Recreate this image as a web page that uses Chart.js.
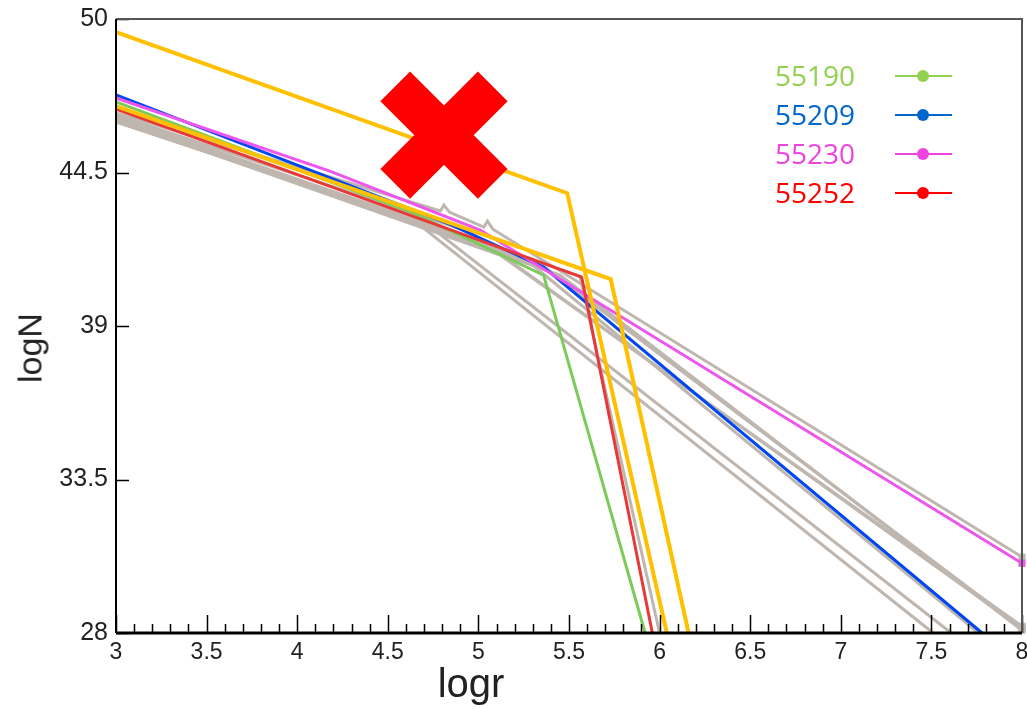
<!DOCTYPE html>
<html>
<head>
<meta charset="utf-8">
<script src="https://cdn.jsdelivr.net/npm/chart.js@4/dist/chart.umd.min.js"></script>
<style>
  body { margin: 0; background: #fff; }
  #wrap { position: relative; width: 1027px; height: 709px; }
  #legend { position: absolute; left: 775px; top: 56px; font-family: "Open Sans", sans-serif; font-size: 28px; }
  .row { position: relative; height: 39px; line-height: 39px; }
  .row .sw { position: absolute; left: 120px; top: 19px; width: 57px; height: 0; border-top: 2px solid; }
  .row .dot { position: absolute; left: 22px; top: -7px; width: 12px; height: 12px; border-radius: 50%; }
  .axtitle { position: absolute; font-family: "Liberation Sans", Arial, sans-serif; color: #222; white-space: nowrap; }
  #xt { left: 471px; top: 683px; font-size: 40px; transform: translate(-50%, -50%); }
  #yt { left: 30px; top: 348px; font-size: 34px; transform: translate(-50%, -50%) rotate(-90deg); }
</style>
</head>
<body>
<div id="wrap">
  <canvas id="c" width="1027" height="709"></canvas>
  <div id="legend"></div>
  <div class="axtitle" id="xt">logr</div>
  <div class="axtitle" id="yt">logN</div>
</div>
<script>
/* ── logN vs logr, per-run fits ── */

const xTicksMin = 3, xTicksMax = 8, xStep = 0.5;
const yTicks = [28, 33.5, 39, 44.5, 50];

// highlighted runs (legend)
const runLabels = ['55190', '55209', '55230', '55252'];
const runText   = ['#92D050', '#0066CC', '#EE44DD', '#FF0000'];
const runLine   = ['#7CCB5A', '#0047F0', '#EE55EE', '#E83838'];

const run55190x = [3, 4.64, 5.36, 5.92];
const run55190y = [47.03, 43.05, 40.82, 28];
const run55209x = [3, 4.84, 5.36, 7.78];
const run55209y = [47.28, 42.65, 41.11, 28];
const run55230x = [3, 4.18, 5.01, 8];
const run55230y = [47.17, 44.55, 42.44, 30.5];
const run55252x = [3, 5.57, 5.96];
const run55252y = [46.77, 40.75, 28];

// the two yellow reference curves
const yellowAx = [3, 5.49, 6.04];
const yellowAy = [49.53, 43.76, 28];
const yellowBx = [3, 5.73, 6.16];
const yellowBy = [46.88, 40.68, 28];

// other runs (grey)
const greyX = [
    [3, 4.02, 4.79, 4.81, 4.84, 5.03, 5.05, 5.08, 8],
    [3, 5.37, 8],
    [3, 5.45, 8],
    [3, 5.12, 8],
    [3, 4.64, 7.51],
    [3, 4.73, 7.61],
    [3, 5.28, 7.76],
    [3, 5.56, 6.0],
    [3, 4.95, 8]
];
const greyY = [
    [46.63, 44.66, 43.12, 43.33, 43.08, 42.54, 42.76, 42.47, 30.72],
    [46.52, 41.08, 28.17],
    [46.45, 40.82, 28.1],
    [46.38, 41.54, 28.24],
    [46.34, 42.8, 28],
    [46.31, 42.58, 28],
    [46.42, 41.29, 28],
    [46.49, 40.79, 28],
    [46.56, 42.37, 28.17]
];

// rejected point
const markX = [4.81];
const markY = [45.84];

const pts = (xs, ys) => xs.map((x, i) => ({ x, y: ys[i] }));

// end marker only where the run reaches the right edge
const endMarker = (xs, r) => xs.map((x, i) => (i === xs.length - 1 && x >= 8 ? r : 0));

const lineDs = (xs, ys, color, width, order) => ({
    type: 'line',
    data: pts(xs, ys),
    borderColor: color,
    backgroundColor: color,
    borderWidth: width,
    pointRadius: endMarker(xs, 5),
    pointStyle: 'rect',
    pointBorderWidth: 0,
    tension: 0,
    fill: false,
    clip: false,
    order
});

const datasets = [];
datasets.push({
    type: 'scatter',
    data: pts(markX, markY),
    pointStyle: 'crossRot',
    pointRadius: 69,
    pointHoverRadius: 69,
    borderColor: '#FF0000',
    backgroundColor: '#FF0000',
    pointBorderWidth: 42,
    clip: false,
    order: 0
});
datasets.push(lineDs(yellowAx, yellowAy, '#FFC000', 4, 1));
datasets.push(lineDs(yellowBx, yellowBy, '#FFC000', 4, 1));
datasets.push(lineDs(run55252x, run55252y, runLine[3], 3, 2));
datasets.push(lineDs(run55230x, run55230y, runLine[2], 3, 3));
datasets.push(lineDs(run55209x, run55209y, runLine[1], 3, 4));
datasets.push(lineDs(run55190x, run55190y, runLine[0], 3, 5));
greyX.forEach((xs, i) => datasets.push(lineDs(xs, greyY[i], '#BFB7AF', 3, 6)));

/* frame + inward ticks, drawn through the chart scales */
const framePlugin = {
    id: 'frame',
    afterDatasetsDraw(chart) {
        const { ctx, chartArea: a, scales: { x, y } } = chart;
        ctx.save();
        ctx.strokeStyle = '#000';
        ctx.lineWidth = 1.5;
        ctx.beginPath();
        yTicks.forEach(v => {
            const py = Math.round(y.getPixelForValue(v)) + 0.5;
            ctx.moveTo(a.left, py);
            ctx.lineTo(a.left + 13, py);
        });
        for (let k = 0; k <= (xTicksMax - xTicksMin) * 10; k++) {
            const v = xTicksMin + k / 10;
            const px = Math.round(x.getPixelForValue(v)) + 0.5;
            ctx.moveTo(px, a.bottom);
            ctx.lineTo(px, a.bottom - (k % 5 === 0 ? 18 : 9));
        }
        ctx.stroke();

        ctx.strokeStyle = '#555';
        ctx.lineWidth = 2;
        ctx.beginPath();
        ctx.moveTo(a.left, a.top);
        ctx.lineTo(a.right, a.top);
        ctx.lineTo(a.right, a.bottom);
        ctx.stroke();

        ctx.strokeStyle = '#000';
        ctx.beginPath();
        ctx.moveTo(a.left, a.top);
        ctx.lineTo(a.left, a.bottom);
        ctx.stroke();
        ctx.lineWidth = 3;
        ctx.beginPath();
        ctx.moveTo(a.left, a.bottom);
        ctx.lineTo(a.right, a.bottom);
        ctx.stroke();
        ctx.restore();
    }
};

new Chart(document.getElementById('c'), {
    data: { datasets },
    options: {
        responsive: false,
        devicePixelRatio: 1,
        animation: false,
        events: [],
        layout: { autoPadding: false, padding: { left: 0, top: 19, right: 5, bottom: 0 } },
        plugins: { legend: { display: false }, tooltip: { enabled: false } },
        scales: {
            x: {
                type: 'linear',
                min: xTicksMin,
                max: xTicksMax,
                afterFit(s) { s.height = 76; s.paddingLeft = 0; s.paddingRight = 0; },
                ticks: { stepSize: xStep, color: '#222', font: { family: 'Liberation Sans', size: 23 }, padding: 6, maxRotation: 0,
                         callback: v => String(v) },
                grid: { display: false, drawTicks: false },
                border: { display: false }
            },
            y: {
                type: 'linear',
                min: yTicks[0],
                max: yTicks[yTicks.length - 1],
                afterFit(s) { s.width = 116; s.paddingTop = 0; s.paddingBottom = 0; },
                afterBuildTicks(s) { s.ticks = yTicks.map(v => ({ value: v })); },
                ticks: { color: '#222', font: { family: 'Liberation Sans', size: 25 }, padding: 8,
                         callback: v => String(v) },
                grid: { display: false, drawTicks: false },
                border: { display: false }
            }
        }
    },
    plugins: [framePlugin]
});

/* legend */
const legend = document.getElementById('legend');
runLabels.forEach((lab, i) => {
    const row = document.createElement('div');
    row.className = 'row';
    row.style.color = runText[i];
    row.innerHTML = `<span>${lab}</span><div class="sw" style="border-color:${runText[i]}"><div class="dot" style="background:${runText[i]}"></div></div>`;
    legend.appendChild(row);
});
</script>
</body>
</html>
